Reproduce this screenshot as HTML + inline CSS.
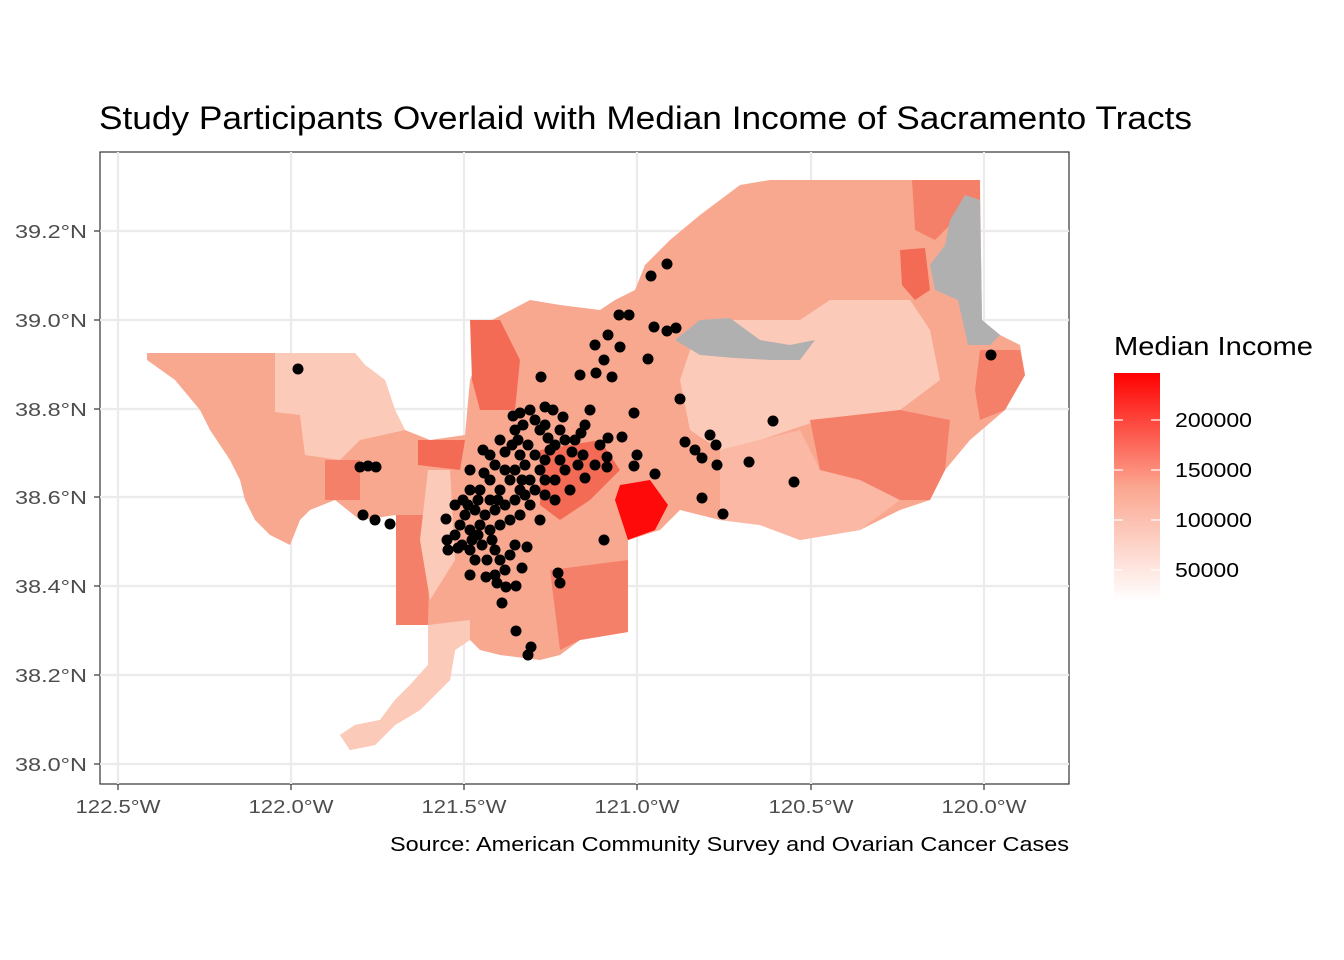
<!DOCTYPE html>
<html><head><style>
body{margin:0;background:#fff;}
svg{display:block;font-family:"Liberation Sans",Arial,sans-serif;}
</style></head><body>
<svg width="1344" height="960" viewBox="0 0 1344 960">
<defs><linearGradient id="lg" x1="0" y1="1" x2="0" y2="0">
<stop offset="0" stop-color="#ffffff"/><stop offset="0.5" stop-color="#fba690"/><stop offset="1" stop-color="#ff0000"/></linearGradient></defs>
<text x="99" y="129" font-size="32" fill="#000" textLength="1093" lengthAdjust="spacingAndGlyphs">Study Participants Overlaid with Median Income of Sacramento Tracts</text>
<rect x="100" y="152" width="969" height="632" fill="#fff" stroke="#333" stroke-width="1.2"/>
<g stroke="#ebebeb" stroke-width="2.2">
<line x1="118" y1="152" x2="118" y2="784"/><line x1="291" y1="152" x2="291" y2="784"/><line x1="464" y1="152" x2="464" y2="784"/><line x1="637" y1="152" x2="637" y2="784"/><line x1="811" y1="152" x2="811" y2="784"/><line x1="984" y1="152" x2="984" y2="784"/>
<line x1="100" y1="231" x2="1069" y2="231"/><line x1="100" y1="320" x2="1069" y2="320"/><line x1="100" y1="409" x2="1069" y2="409"/><line x1="100" y1="497" x2="1069" y2="497"/><line x1="100" y1="586" x2="1069" y2="586"/><line x1="100" y1="675" x2="1069" y2="675"/><line x1="100" y1="764" x2="1069" y2="764"/>
</g>
<polygon fill="#f9a890" points="147,353 355,353 365,365 385,380 395,410 405,430 430,440 465,435 470,380 492,320 530,300 560,305 600,310 615,300 635,290 645,265 670,240 700,215 740,185 770,180 910,180 980,180 982,320 1000,335 1020,345 1025,375 1005,410 970,440 945,470 930,500 900,510 860,530 800,540 760,525 720,520 680,510 660,530 628,540 628,632 580,640 560,655 540,660 500,655 480,650 470,640 455,650 450,680 430,700 420,710 395,725 375,745 350,750 340,735 355,725 380,720 395,700 410,685 428,665 428,625 396,625 396,515 360,520 335,500 310,510 300,520 290,545 270,535 255,520 245,500 240,480 230,460 210,430 200,410 175,380 147,360"/>
<polygon fill="#fccab9" points="275,353 355,353 365,365 385,380 395,410 405,430 360,440 340,460 305,455 300,415 275,412"/>
<polygon fill="#fccab9" points="700,320 800,320 830,300 910,300 930,330 940,380 900,410 820,420 760,440 720,450 690,430 680,380"/>
<polygon fill="#fbb8a4" points="720,450 800,430 820,470 860,480 900,500 860,530 800,540 760,525 720,520"/>
<polygon fill="#f5806a" points="810,420 900,410 950,420 945,470 930,500 900,500 860,480 820,470"/>
<polygon fill="#f5806a" points="912,180 980,180 980,215 950,225 935,240 915,230"/>
<polygon fill="#f36a55" points="900,250 925,248 930,290 915,300 902,285"/>
<polygon fill="#f5806a" points="980,350 1020,350 1025,375 1005,410 980,420 975,390"/>
<polygon fill="#b0b0b0" points="950,220 965,195 980,200 982,320 1000,335 990,345 968,345 958,300 935,290 930,265 945,245"/>
<polygon fill="#b0b0b0" points="675,340 700,320 730,318 760,340 790,345 815,340 800,360 770,360 735,358 700,355"/>
<polygon fill="#f5806a" points="396,515 428,515 430,540 428,625 396,625"/>
<polygon fill="#f36a55" points="470,320 500,320 520,360 515,410 480,410 472,380"/>
<polygon fill="#f36a55" points="418,440 465,440 460,470 418,465"/>
<polygon fill="#f5806a" points="325,460 360,460 360,500 325,500"/>
<polygon fill="#f36a55" points="540,450 600,440 620,470 590,500 560,520 540,505"/>
<polygon fill="#f5806a" points="550,570 628,560 628,632 580,640 560,650"/>
<polygon fill="#fccab9" points="428,470 450,470 455,560 430,600 420,540"/>
<polygon fill="#fccab9" points="428,625 470,620 470,640 455,650 450,680 430,700 420,710 395,725 375,745 350,750 340,735 355,725 380,720 395,700 410,685 428,665"/>
<polygon fill="#ff0a0a" points="620,485 650,480 668,505 655,530 628,540 615,500"/>
<g fill="#000">
<circle cx="298" cy="369" r="5.5"/><circle cx="651" cy="276" r="5.5"/><circle cx="667" cy="264" r="5.5"/><circle cx="991" cy="355" r="5.5"/><circle cx="773" cy="421" r="5.5"/><circle cx="794" cy="482" r="5.5"/><circle cx="749" cy="462" r="5.5"/><circle cx="723" cy="514" r="5.5"/><circle cx="702" cy="498" r="5.5"/><circle cx="604" cy="540" r="5.5"/><circle cx="680" cy="399" r="5.5"/><circle cx="634" cy="413" r="5.5"/><circle cx="648" cy="359" r="5.5"/><circle cx="654" cy="327" r="5.5"/><circle cx="667" cy="331" r="5.5"/><circle cx="676" cy="328" r="5.5"/><circle cx="619" cy="315" r="5.5"/><circle cx="629" cy="315" r="5.5"/><circle cx="620" cy="347" r="5.5"/><circle cx="608" cy="335" r="5.5"/><circle cx="595" cy="345" r="5.5"/><circle cx="604" cy="360" r="5.5"/><circle cx="612" cy="377" r="5.5"/><circle cx="596" cy="373" r="5.5"/><circle cx="580" cy="375" r="5.5"/><circle cx="541" cy="377" r="5.5"/>
<circle cx="685" cy="442" r="5.5"/><circle cx="695" cy="450" r="5.5"/><circle cx="702" cy="458" r="5.5"/><circle cx="710" cy="435" r="5.5"/><circle cx="716" cy="445" r="5.5"/><circle cx="717" cy="465" r="5.5"/><circle cx="655" cy="474" r="5.5"/><circle cx="637" cy="455" r="5.5"/><circle cx="634" cy="466" r="5.5"/><circle cx="622" cy="437" r="5.5"/><circle cx="607" cy="457" r="5.5"/><circle cx="607" cy="467" r="5.5"/><circle cx="608" cy="438" r="5.5"/>
<circle cx="360" cy="467" r="5.5"/><circle cx="368" cy="466" r="5.5"/><circle cx="376" cy="467" r="5.5"/><circle cx="363" cy="515" r="5.5"/><circle cx="375" cy="520" r="5.5"/><circle cx="390" cy="524" r="5.5"/>
<circle cx="558" cy="573" r="5.5"/><circle cx="560" cy="583" r="5.5"/><circle cx="516" cy="631" r="5.5"/><circle cx="531" cy="647" r="5.5"/><circle cx="528" cy="655" r="5.5"/><circle cx="502" cy="603" r="5.5"/><circle cx="470" cy="575" r="5.5"/><circle cx="486" cy="577" r="5.5"/><circle cx="497" cy="583" r="5.5"/><circle cx="506" cy="587" r="5.5"/><circle cx="516" cy="586" r="5.5"/><circle cx="522" cy="568" r="5.5"/><circle cx="527" cy="547" r="5.5"/><circle cx="446" cy="519" r="5.5"/><circle cx="447" cy="540" r="5.5"/><circle cx="448" cy="550" r="5.5"/>
</g>
<g fill="#000">
<circle cx="515" cy="430" r="5.5"/><circle cx="523" cy="425" r="5.5"/><circle cx="513" cy="416" r="5.5"/><circle cx="520" cy="413" r="5.5"/><circle cx="535" cy="420" r="5.5"/><circle cx="545" cy="407" r="5.5"/><circle cx="553" cy="410" r="5.5"/><circle cx="563" cy="417" r="5.5"/><circle cx="540" cy="430" r="5.5"/><circle cx="548" cy="438" r="5.5"/><circle cx="555" cy="445" r="5.5"/><circle cx="565" cy="440" r="5.5"/><circle cx="572" cy="452" r="5.5"/><circle cx="583" cy="455" r="5.5"/><circle cx="578" cy="465" r="5.5"/><circle cx="565" cy="470" r="5.5"/><circle cx="555" cy="480" r="5.5"/><circle cx="585" cy="425" r="5.5"/><circle cx="590" cy="410" r="5.5"/><circle cx="581" cy="433" r="5.5"/>
<circle cx="483" cy="450" r="5.5"/><circle cx="490" cy="455" r="5.5"/><circle cx="470" cy="470" r="5.5"/><circle cx="484" cy="473" r="5.5"/><circle cx="495" cy="465" r="5.5"/><circle cx="505" cy="452" r="5.5"/><circle cx="512" cy="445" r="5.5"/><circle cx="520" cy="455" r="5.5"/><circle cx="528" cy="445" r="5.5"/><circle cx="535" cy="455" r="5.5"/><circle cx="545" cy="460" r="5.5"/><circle cx="540" cy="470" r="5.5"/><circle cx="530" cy="480" r="5.5"/><circle cx="520" cy="490" r="5.5"/><circle cx="510" cy="480" r="5.5"/><circle cx="505" cy="470" r="5.5"/><circle cx="500" cy="490" r="5.5"/><circle cx="490" cy="500" r="5.5"/><circle cx="480" cy="490" r="5.5"/><circle cx="470" cy="490" r="5.5"/><circle cx="463" cy="500" r="5.5"/><circle cx="455" cy="505" r="5.5"/><circle cx="465" cy="515" r="5.5"/><circle cx="475" cy="510" r="5.5"/><circle cx="485" cy="515" r="5.5"/><circle cx="495" cy="510" r="5.5"/><circle cx="505" cy="505" r="5.5"/><circle cx="515" cy="500" r="5.5"/><circle cx="525" cy="495" r="5.5"/><circle cx="535" cy="490" r="5.5"/><circle cx="545" cy="495" r="5.5"/><circle cx="530" cy="505" r="5.5"/><circle cx="520" cy="515" r="5.5"/><circle cx="510" cy="520" r="5.5"/><circle cx="500" cy="525" r="5.5"/><circle cx="490" cy="530" r="5.5"/><circle cx="480" cy="525" r="5.5"/><circle cx="470" cy="530" r="5.5"/><circle cx="460" cy="525" r="5.5"/><circle cx="455" cy="535" r="5.5"/><circle cx="462" cy="545" r="5.5"/><circle cx="472" cy="540" r="5.5"/><circle cx="482" cy="545" r="5.5"/><circle cx="470" cy="550" r="5.5"/><circle cx="458" cy="548" r="5.5"/><circle cx="495" cy="550" r="5.5"/><circle cx="500" cy="560" r="5.5"/><circle cx="510" cy="555" r="5.5"/><circle cx="505" cy="570" r="5.5"/><circle cx="495" cy="575" r="5.5"/><circle cx="515" cy="545" r="5.5"/><circle cx="540" cy="520" r="5.5"/><circle cx="555" cy="500" r="5.5"/><circle cx="570" cy="490" r="5.5"/><circle cx="585" cy="478" r="5.5"/><circle cx="595" cy="465" r="5.5"/><circle cx="600" cy="445" r="5.5"/><circle cx="550" cy="450" r="5.5"/><circle cx="560" cy="460" r="5.5"/><circle cx="525" cy="465" r="5.5"/><circle cx="515" cy="470" r="5.5"/><circle cx="490" cy="480" r="5.5"/><circle cx="500" cy="440" r="5.5"/><circle cx="530" cy="410" r="5.5"/><circle cx="475" cy="560" r="5.5"/><circle cx="487" cy="560" r="5.5"/>
<circle cx="518" cy="440" r="5.5"/><circle cx="545" cy="425" r="5.5"/><circle cx="560" cy="430" r="5.5"/><circle cx="575" cy="440" r="5.5"/><circle cx="498" cy="500" r="5.5"/><circle cx="478" cy="500" r="5.5"/><circle cx="468" cy="505" r="5.5"/><circle cx="492" cy="540" r="5.5"/><circle cx="478" cy="535" r="5.5"/><circle cx="522" cy="480" r="5.5"/><circle cx="545" cy="480" r="5.5"/>
</g>
<g font-size="18" fill="#4d4d4d" text-anchor="end">
<text x="87" y="238" textLength="72" lengthAdjust="spacingAndGlyphs">39.2°N</text><text x="87" y="327" textLength="72" lengthAdjust="spacingAndGlyphs">39.0°N</text><text x="87" y="416" textLength="72" lengthAdjust="spacingAndGlyphs">38.8°N</text><text x="87" y="504" textLength="72" lengthAdjust="spacingAndGlyphs">38.6°N</text><text x="87" y="593" textLength="72" lengthAdjust="spacingAndGlyphs">38.4°N</text><text x="87" y="682" textLength="72" lengthAdjust="spacingAndGlyphs">38.2°N</text><text x="87" y="771" textLength="72" lengthAdjust="spacingAndGlyphs">38.0°N</text>
</g>
<g stroke="#333" stroke-width="1.2">
<line x1="94" y1="231" x2="100" y2="231"/><line x1="94" y1="320" x2="100" y2="320"/><line x1="94" y1="409" x2="100" y2="409"/><line x1="94" y1="497" x2="100" y2="497"/><line x1="94" y1="586" x2="100" y2="586"/><line x1="94" y1="675" x2="100" y2="675"/><line x1="94" y1="764" x2="100" y2="764"/>
<line x1="118" y1="784" x2="118" y2="790"/><line x1="291" y1="784" x2="291" y2="790"/><line x1="464" y1="784" x2="464" y2="790"/><line x1="637" y1="784" x2="637" y2="790"/><line x1="811" y1="784" x2="811" y2="790"/><line x1="984" y1="784" x2="984" y2="790"/>
</g>
<g font-size="18" fill="#4d4d4d" text-anchor="middle">
<text x="118" y="813" textLength="85" lengthAdjust="spacingAndGlyphs">122.5°W</text><text x="291" y="813" textLength="85" lengthAdjust="spacingAndGlyphs">122.0°W</text><text x="464" y="813" textLength="85" lengthAdjust="spacingAndGlyphs">121.5°W</text><text x="637" y="813" textLength="85" lengthAdjust="spacingAndGlyphs">121.0°W</text><text x="811" y="813" textLength="85" lengthAdjust="spacingAndGlyphs">120.5°W</text><text x="984" y="813" textLength="85" lengthAdjust="spacingAndGlyphs">120.0°W</text>
</g>
<text x="390" y="851" font-size="20" fill="#000" textLength="679" lengthAdjust="spacingAndGlyphs">Source: American Community Survey and Ovarian Cancer Cases</text>
<text x="1114" y="355" font-size="26" fill="#000" textLength="199" lengthAdjust="spacingAndGlyphs">Median Income</text>
<rect x="1114" y="373" width="46" height="228" fill="url(#lg)"/>
<g stroke="#fff" stroke-width="1.2"><line x1="1114" y1="420" x2="1123" y2="420"/><line x1="1151" y1="420" x2="1160" y2="420"/><line x1="1114" y1="470" x2="1123" y2="470"/><line x1="1151" y1="470" x2="1160" y2="470"/><line x1="1114" y1="520" x2="1123" y2="520"/><line x1="1151" y1="520" x2="1160" y2="520"/><line x1="1114" y1="570" x2="1123" y2="570"/><line x1="1151" y1="570" x2="1160" y2="570"/></g>
<g font-size="20" fill="#000"><text x="1175" y="427" textLength="77" lengthAdjust="spacingAndGlyphs">200000</text><text x="1175" y="477" textLength="77" lengthAdjust="spacingAndGlyphs">150000</text><text x="1175" y="527" textLength="77" lengthAdjust="spacingAndGlyphs">100000</text><text x="1175" y="577" textLength="64" lengthAdjust="spacingAndGlyphs">50000</text></g>
</svg>
</body></html>
